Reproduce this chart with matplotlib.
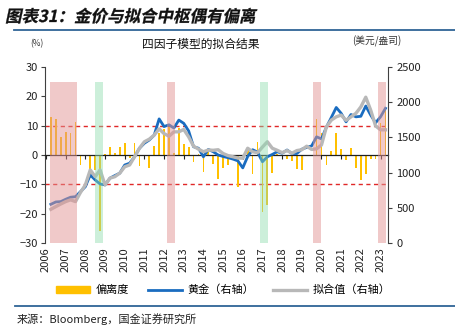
import matplotlib
matplotlib.use("Agg")
import matplotlib.pyplot as plt
from matplotlib.lines import Line2D
from matplotlib.patches import Patch, PathPatch
from matplotlib.textpath import TextPath
from matplotlib.font_manager import FontProperties
from matplotlib.transforms import Affine2D, IdentityTransform
import numpy as np

plt.rcParams['font.family'] = ['Noto Sans CJK SC', 'DejaVu Sans']

# quarterly data, 2006Q1 .. 2023Q1 (plotted at quarter end)
deviation = [13.0, 12.3, 6.1, 7.8, 7.5, 11.1, -3.5, -0.5, -8.0, -5.0,
             -26.0, 0.3, 2.6, 0.8, 2.8, 4.0, -1.0, 4.0, -3.7, -0.5,
             -4.5, 3.0, 7.6, 9.0, 9.6, 0.8, 9.2, 3.7, 2.6, -2.3,
             0.5, -5.7, 1.0, -3.0, -8.3, -4.5, -3.5, -1.0, -10.8, -1.0,
             2.5, -6.5, 4.3, -19.3, -17.0, -6.0, 0.5, -0.5, -1.5, -2.0,
             -4.8, -5.0, -0.3, -0.5, 12.3, 7.5, -3.4, 1.4, 7.4, 1.9,
             -1.7, 2.3, -4.5, -8.5, -6.6, -1.4, -1.4, 10.8, 15.6]
gold = [550, 583, 588, 621, 650, 658, 729, 800, 967, 896,
        838, 825, 921, 958, 992, 1108, 1133, 1225, 1346, 1417,
        1463, 1533, 1763, 1654, 1679, 1633, 1746, 1700, 1592, 1367,
        1346, 1225, 1329, 1296, 1250, 1229, 1212, 1192, 1167, 1067,
        1229, 1325, 1292, 1154, 1225, 1258, 1296, 1275, 1321, 1271,
        1271, 1333, 1358, 1379, 1508, 1479, 1646, 1783, 1925, 1842,
        1721, 1825, 1792, 1800, 1946, 1817, 1708, 1792, 1913]
fitted = [479, 517, 554, 588, 613, 588, 717, 825, 1038, 942,
          1038, 825, 921, 942, 992, 1083, 1108, 1225, 1346, 1438,
          1475, 1533, 1621, 1554, 1517, 1579, 1579, 1613, 1508, 1375,
          1333, 1296, 1321, 1317, 1325, 1271, 1242, 1225, 1208, 1204,
          1346, 1296, 1283, 1363, 1438, 1346, 1317, 1283, 1313, 1275,
          1313, 1325, 1375, 1329, 1338, 1392, 1650, 1746, 1792, 1817,
          1742, 1792, 1842, 1933, 2071, 1888, 1663, 1608, 1608]
years = list(range(2006, 2024))
# shaded periods
pink_periods = [(2006.2, 2007.6), (2012.17, 2012.55), (2019.57, 2019.98), (2022.87, 2023.29)]
green_periods = [(2008.5, 2008.9), (2016.88, 2017.27)]

t = 2006 + (np.arange(len(deviation)) + 1) / 4.0

fig = plt.figure(figsize=(4.55, 3.33), dpi=100)
ax = fig.add_axes([45/455, 1-243/333, 343/455, 176/333])
ax2 = ax.twinx()

ax.bar(t, deviation, width=0.09, color='#FFC000', zorder=2)
ax.axhline(10, color='#E02828', ls=(0, (3, 2.5)), lw=1.0, zorder=1)
ax.axhline(-10, color='#E02828', ls=(0, (3, 2.5)), lw=1.0, zorder=1)

ax2.plot(t, gold, color='#1A6CC0', lw=2.0, zorder=3)
ax2.plot(t, fitted, color='#B8B8B8', lw=2.4, zorder=4)
for a, b in pink_periods:
    ax2.axvspan(a, b, ymin=0, ymax=55/60, color='#E29494', alpha=0.5, lw=0, zorder=6)
for a, b in green_periods:
    ax2.axvspan(a, b, ymin=0, ymax=55/60, color='#8EDCAE', alpha=0.45, lw=0, zorder=6)

ax.set_xlim(2005.95, 2023.38)
ax.set_ylim(-30, 30)
ax.set_yticks(range(-30, 31, 10))
ax2.set_ylim(0, 2500)
ax2.set_yticks(range(0, 2501, 500))

for s in ['top', 'right']:
    ax.spines[s].set_visible(False)
ax.spines['bottom'].set_position(('data', 0))
ax.spines['bottom'].set_color('#202020')
ax.spines['bottom'].set_linewidth(0.9)
ax.spines['left'].set_color('#404040')
ax.set_xticks(years)
ax.tick_params(axis='x', direction='out', length=3, width=0.8, color='#202020',
               labelbottom=False)
ax.tick_params(axis='y', direction='out', length=3, width=0.8, color='#404040',
               labelsize=8, labelcolor='#222222', pad=2)
for s in ['top', 'left', 'bottom']:
    ax2.spines[s].set_visible(False)
ax2.spines['right'].set_color('#404040')
ax2.tick_params(axis='y', direction='out', length=3, width=0.8, color='#404040',
                labelsize=8, labelcolor='#222222', pad=3)

sec = ax.secondary_xaxis('bottom')
sec.set_xticks(years)
sec.set_xticklabels([str(y) for y in years], rotation=90, fontsize=8, color='#222222')
sec.spines['bottom'].set_visible(False)
sec.tick_params(axis='x', length=0, pad=3)

handles = [Patch(color='#FFC000'),
           Line2D([], [], color='#1A6CC0', lw=2.0),
           Line2D([], [], color='#B8B8B8', lw=2.4)]
fig.legend(handles, ['偏离度', '黄金（右轴）', '拟合值（右轴）'], loc='center',
           bbox_to_anchor=(223/455, 1-290/333), ncol=3, frameon=False, fontsize=8,
           handlelength=3.1, handleheight=0.6, columnspacing=1.7, handletextpad=0.45)

# slanted bold title
title_path = TextPath((0, 0), '图表31：金价与拟合中枢偶有偏离', size=16.5,
                      prop=FontProperties(family='Noto Sans CJK SC', weight='bold'))
title_tr = Affine2D().skew_deg(12, 0).translate(5, 333 - 22) + IdentityTransform()
fig.add_artist(PathPatch(title_path, transform=title_tr, color='#111111', lw=0.2))

fig.add_artist(Line2D([14/455, 1], [1-30/333, 1-30/333], color='#2F6496', lw=1.3))
fig.text(37/455, 1-44/333, '(%)', fontsize=6, va='center', ha='center', color='#333333')
fig.text(201/455, 1-44/333, '四因子模型的拟合结果', fontsize=8.5, va='center', ha='center',
         color='#111111')
fig.text(377/455, 1-41/333, '(美元/盎司)', fontsize=7, va='center', ha='center',
         color='#333333')
fig.add_artist(Line2D([15/455, 1], [1-306/333, 1-306/333], color='#2F6496', lw=1.3))
fig.text(17/455, 1-319/333, '来源：Bloomberg，国金证券研究所', fontsize=8, va='center',
         ha='left', color='#222222')

fig.savefig('out.png', dpi=100)
